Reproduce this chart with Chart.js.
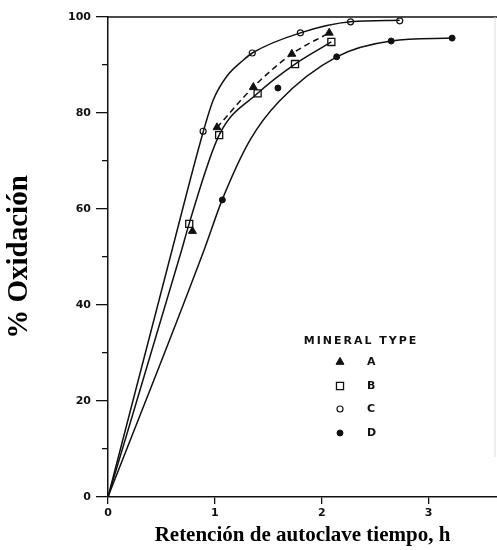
<!DOCTYPE html>
<html>
<head>
<meta charset="utf-8">
<script src="https://cdn.jsdelivr.net/npm/chart.js@4/dist/chart.umd.min.js"></script>
<style>
  html, body { margin: 0; padding: 0; background: #fff; }
  #wrap { width: 497px; height: 550px; }
</style>
</head>
<body>
<div id="wrap"><canvas id="myChart"></canvas></div>
<script>
// axis ticks
const xTicks = [0, 1, 2, 3];
const yTicks = [0, 20, 40, 60, 80, 100];
const yMinorTicks = [10, 30, 50, 70, 90];

// measured points [time h, % oxidation]
const pointsA = [[0.79, 55.4], [1.02, 77], [1.36, 85.4], [1.72, 92.3], [2.07, 96.7]];
const pointsB = [[0.76, 56.9], [1.04, 75.4], [1.40, 84.1], [1.75, 90.2], [2.09, 94.8]];
const pointsC = [[0.89, 76.2], [1.35, 92.5], [1.80, 96.7], [2.27, 99], [2.73, 99.2]];
const pointsD = [[1.07, 61.9], [1.59, 85.2], [2.14, 91.7], [2.65, 95], [3.22, 95.6]];

// fitted curves
const curveA = [[1.02, 77], [1.36, 85.4], [1.72, 92.3], [2.07, 96.7]];
const curveB = [[0, 0], [0.69, 51.5], [0.76, 57], [1.04, 75.4], [1.40, 84.1], [1.75, 90.2], [2.09, 94.8]];
const curveC = [[0, 0], [0.6, 51.5], [0.89, 76], [0.985, 82.7], [1.11, 87.6], [1.265, 91], [1.35, 92.5], [1.8, 96.7], [2.27, 99], [2.73, 99.3]];
const curveD = [[0, 0], [0.9, 51.5], [1.07, 62], [1.33, 74.4], [1.6, 82.4], [2.14, 91.7], [2.65, 95], [3.22, 95.6]];

const legendTitle = 'MINERAL TYPE';
const legendLabels = ['A', 'B', 'C', 'D'];

const ink = '#111';
const toXY = arr => arr.map(p => ({x: p[0], y: p[1]}));

function curve(label, pts, dash) {
    return {
        label: label, data: toXY(pts), showLine: true,
        borderColor: ink, borderWidth: 1.5, borderDash: dash || [],
        pointRadius: 0, pointHoverRadius: 0,
        cubicInterpolationMode: 'monotone', fill: false
    };
}

const markerStyles = [
    {pointStyle: 'triangle', pointRadius: 4.6, backgroundColor: ink, borderColor: ink, borderWidth: 1},
    {pointStyle: 'rect', pointRadius: 5, backgroundColor: '#fff', borderColor: ink, borderWidth: 1.3},
    {pointStyle: 'circle', pointRadius: 3, backgroundColor: '#fff', borderColor: ink, borderWidth: 1.2},
    {pointStyle: 'circle', pointRadius: 3, backgroundColor: ink, borderColor: ink, borderWidth: 1}
];
const markerData = [pointsA, pointsB, pointsC, pointsD];

const datasets = [
    curve('curve C', curveC),
    curve('curve B', curveB),
    curve('curve D', curveD),
    curve('curve A', curveA, [6, 4])
];
markerData.forEach((pts, i) => {
    datasets.push(Object.assign({label: legendLabels[i], data: toXY(pts), showLine: false}, markerStyles[i]));
});

// frame on top/right and the in-plot legend
const framePlugin = {
    id: 'frame',
    afterDraw(chart) {
        const {ctx, chartArea: {left, top, right, bottom}} = chart;
        ctx.save();
        ctx.strokeStyle = ink;
        ctx.lineWidth = 1.5;
        ctx.beginPath();
        ctx.moveTo(left - 1, top);
        ctx.lineTo(right, top);
        ctx.stroke();
        ctx.strokeStyle = '#dcdcdc';
        ctx.lineWidth = 1;
        ctx.beginPath();
        ctx.moveTo(right - 2, top);
        ctx.lineTo(right - 2, bottom - 40);
        ctx.stroke();

        // legend
        ctx.fillStyle = ink;
        ctx.font = 'bold 11px "DejaVu Sans"';
        ctx.textBaseline = 'middle';
        ctx.textAlign = 'center';
        ctx.letterSpacing = '2px';
        ctx.fillText(legendTitle, 361, 341);
        ctx.letterSpacing = '0px';
        ctx.textAlign = 'left';
        const rows = [362, 386, 409, 433];
        legendLabels.forEach((lab, i) => {
            const st = markerStyles[i];
            ctx.fillStyle = st.backgroundColor;
            ctx.strokeStyle = st.borderColor;
            ctx.lineWidth = st.borderWidth;
            Chart.helpers.drawPoint(ctx, {
                pointStyle: st.pointStyle, radius: st.pointRadius,
                rotation: 0, borderWidth: st.borderWidth
            }, 340, rows[i]);
            ctx.fillStyle = ink;
            ctx.fillText(lab, 367, rows[i]);
        });
        ctx.restore();
    }
};

const tickFont = {family: 'DejaVu Sans', weight: 'bold', size: 11};

const options = {
    responsive: true,
    maintainAspectRatio: false,
    animation: false,
    layout: {autoPadding: false, padding: {top: 17, right: 0, left: 0, bottom: 0}},
    plugins: {legend: {display: false}, tooltip: {enabled: false}},
    scales: {
        x: {
            type: 'linear', min: 0, max: 3.64,
            afterBuildTicks: s => { s.ticks = xTicks.map(v => ({value: v})); },
            afterFit: s => { s.height = 53; s.paddingLeft = 0; s.paddingRight = 0; },
            grid: {drawOnChartArea: false, tickLength: 7, color: ink, lineWidth: 1.3},
            border: {display: true, color: ink, width: 1.5},
            ticks: {color: ink, font: tickFont, padding: 3, maxRotation: 0},
            title: {
                display: true, text: 'Retención de autoclave tiempo, h', color: '#000',
                font: {family: 'Liberation Serif', weight: 'bold', size: 21},
                padding: {top: 0, bottom: 2}
            }
        },
        y: {
            type: 'linear', position: 'left', min: 0, max: 100, weight: 1,
            afterBuildTicks: s => { s.ticks = yTicks.map(v => ({value: v})); },
            afterFit: s => { s.width = 108; },
            grid: {drawOnChartArea: false, tickLength: 12, color: ink, lineWidth: 1.3},
            border: {display: true, color: ink, width: 1.5},
            ticks: {color: ink, font: tickFont, padding: 5},
            title: {
                display: true, text: '% Oxidación', color: '#000',
                font: {family: 'Liberation Serif', weight: 'bold', size: 29},
                padding: {top: 2, bottom: 0}
            }
        },
        yMinor: {
            type: 'linear', position: 'left', min: 0, max: 100, weight: 0,
            afterBuildTicks: s => { s.ticks = yMinorTicks.map(v => ({value: v})); },
            afterFit: s => { s.width = 0; },
            grid: {drawOnChartArea: false, tickLength: 6, color: ink, lineWidth: 1.3},
            border: {display: false},
            ticks: {display: false}
        }
    }
};

const myChart = new Chart(document.getElementById('myChart'), {
    type: 'scatter',
    data: {datasets: datasets},
    options: options,
    plugins: [framePlugin]
});
</script>
</body>
</html>
